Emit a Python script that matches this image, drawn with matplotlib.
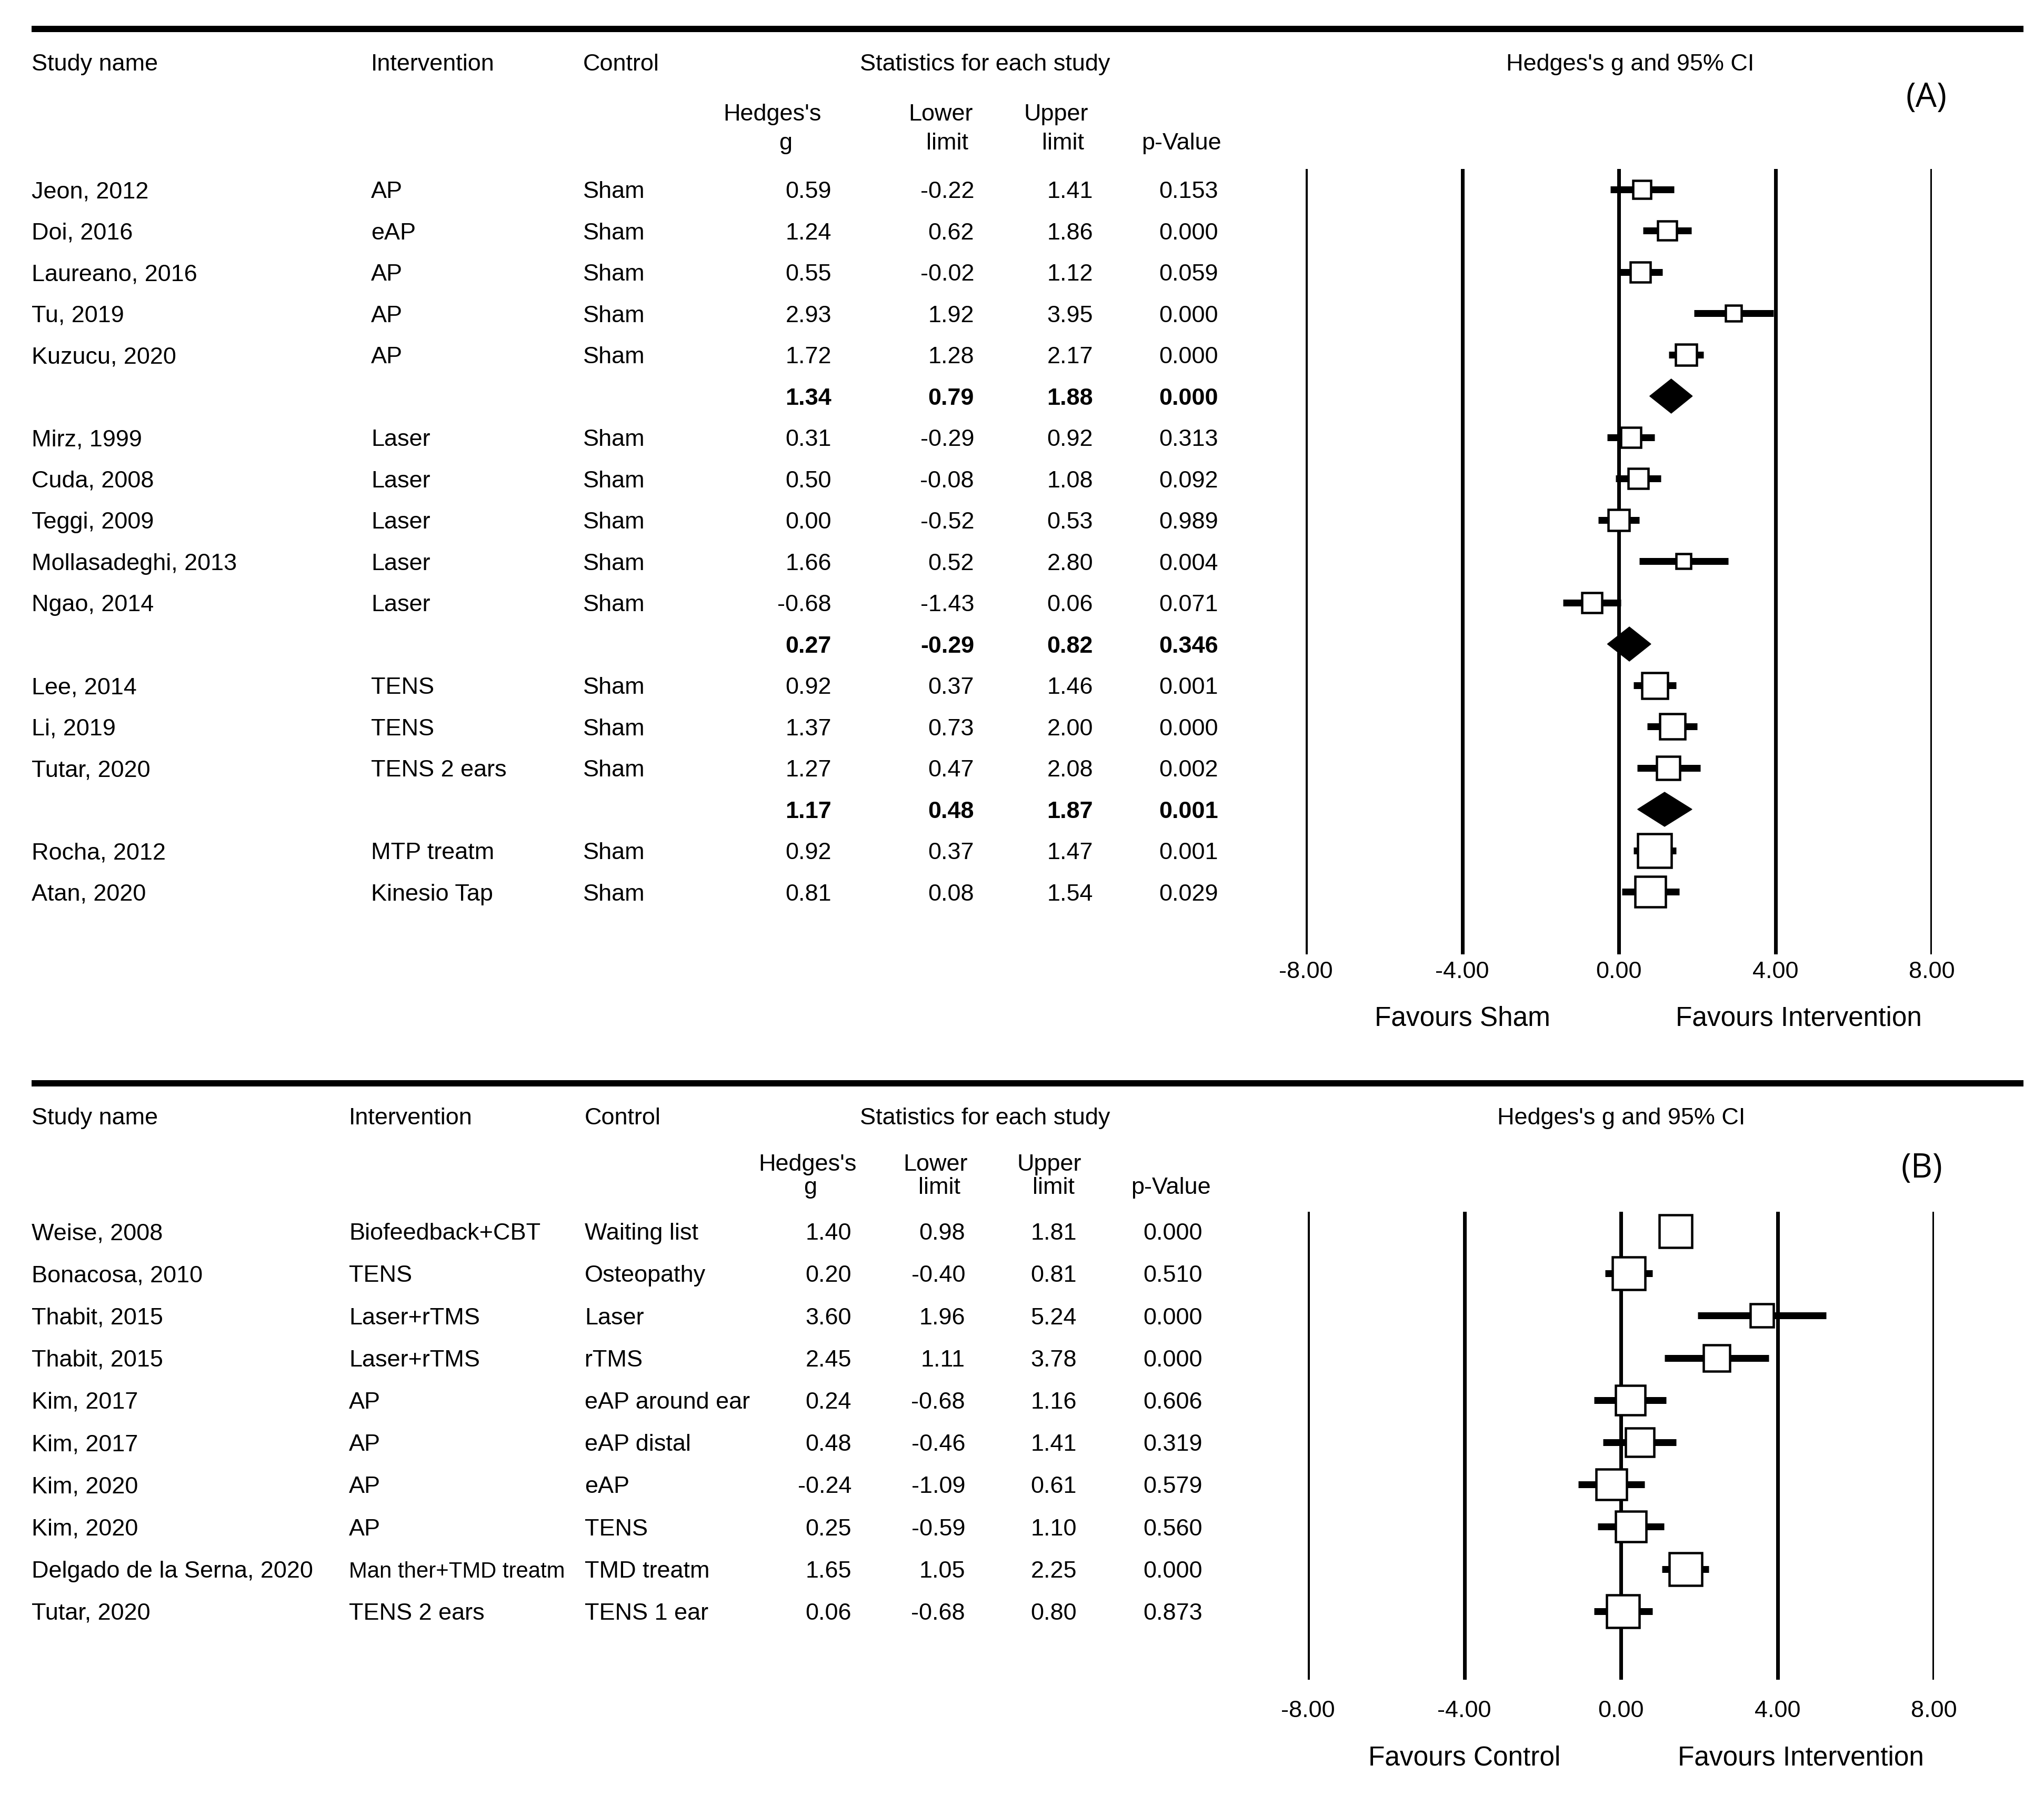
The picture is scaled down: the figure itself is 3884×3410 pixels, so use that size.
import numpy as np
import matplotlib
matplotlib.use("Agg")
import matplotlib.pyplot as plt
from matplotlib.transforms import blended_transform_factory, offset_copy
from matplotlib.lines import Line2D
from matplotlib.patches import Polygon

# ---------------- data: panel A (vs sham) ----------------
studies_a = ["Jeon, 2012", "Doi, 2016", "Laureano, 2016", "Tu, 2019", "Kuzucu, 2020", "",
             "Mirz, 1999", "Cuda, 2008", "Teggi, 2009", "Mollasadeghi, 2013", "Ngao, 2014", "",
             "Lee, 2014", "Li, 2019", "Tutar, 2020", "",
             "Rocha, 2012", "Atan, 2020"]
intervention_a = ["AP", "eAP", "AP", "AP", "AP", "",
                  "Laser", "Laser", "Laser", "Laser", "Laser", "",
                  "TENS", "TENS", "TENS 2 ears", "",
                  "MTP treatm", "Kinesio Tap"]
control_a = ["Sham", "Sham", "Sham", "Sham", "Sham", "",
             "Sham", "Sham", "Sham", "Sham", "Sham", "",
             "Sham", "Sham", "Sham", "",
             "Sham", "Sham"]
g_a = [0.59, 1.24, 0.55, 2.93, 1.72, 1.34,
       0.31, 0.50, 0.00, 1.66, -0.68, 0.27,
       0.92, 1.37, 1.27, 1.17,
       0.92, 0.81]
lower_a = [-0.22, 0.62, -0.02, 1.92, 1.28, 0.79,
           -0.29, -0.08, -0.52, 0.52, -1.43, -0.29,
           0.37, 0.73, 0.47, 0.48,
           0.37, 0.08]
upper_a = [1.41, 1.86, 1.12, 3.95, 2.17, 1.88,
           0.92, 1.08, 0.53, 2.80, 0.06, 0.82,
           1.46, 2.00, 2.08, 1.87,
           1.47, 1.54]
p_a = [0.153, 0.000, 0.059, 0.000, 0.000, 0.000,
       0.313, 0.092, 0.989, 0.004, 0.071, 0.346,
       0.001, 0.000, 0.002, 0.001,
       0.001, 0.029]
summary_a = [False, False, False, False, False, True,
             False, False, False, False, False, True,
             False, False, False, True,
             False, False]
# relative study weights (box area), nan for pooled rows
weight_a = [13.0, 14.4, 16.0, 10.9, 17.6, np.nan,
            16.0, 16.0, 17.6, 9.0, 16.0, np.nan,
            25.0, 24.5, 21.2, np.nan,
            41.0, 33.6]

# ---------------- data: panel B (vs active control) ----------------
studies_b = ["Weise, 2008", "Bonacosa, 2010", "Thabit, 2015", "Thabit, 2015", "Kim, 2017",
             "Kim, 2017", "Kim, 2020", "Kim, 2020", "Delgado de la Serna, 2020", "Tutar, 2020"]
intervention_b = ["Biofeedback+CBT", "TENS", "Laser+rTMS", "Laser+rTMS", "AP",
                  "AP", "AP", "AP", "Man ther+TMD treatm", "TENS 2 ears"]
control_b = ["Waiting list", "Osteopathy", "Laser", "rTMS", "eAP around ear",
             "eAP distal", "eAP", "TENS", "TMD treatm", "TENS 1 ear"]
g_b = [1.40, 0.20, 3.60, 2.45, 0.24, 0.48, -0.24, 0.25, 1.65, 0.06]
lower_b = [0.98, -0.40, 1.96, 1.11, -0.68, -0.46, -1.09, -0.59, 1.05, -0.68]
upper_b = [1.81, 0.81, 5.24, 3.78, 1.16, 1.41, 0.61, 1.10, 2.25, 0.80]
p_b = [0.000, 0.510, 0.000, 0.000, 0.606, 0.319, 0.579, 0.560, 0.000, 0.873]
summary_b = [False] * 10
weight_b = [39.7, 38.4, 21.2, 26.0, 31.4, 30.3, 34.8, 33.6, 38.4, 38.4]

xticks = [-8, -4, 0, 4, 8]
xtick_labels = ["-8.00", "-4.00", "0.00", "4.00", "8.00"]

# ---------------- figure ----------------
W, H, DPI = 3884, 3410, 200
plt.rcParams['font.family'] = ['Liberation Sans', 'DejaVu Sans']
FS = 16.2          # table font size
FS_FAV = 18.5
PT = DPI / 72.0    # pixels per point

fig = plt.figure(figsize=(W / DPI, H / DPI), dpi=DPI)
fig.patch.set_facecolor("white")


def fx(px):
    return px / W


def fy(py):
    return 1 - py / H


def put(xpx, ypx_center, s, size=FS, ha="left", weight="normal", family=None):
    base = ypx_center + 0.358 * size * PT
    kw = {}
    if family is not None:
        kw["family"] = family
    fig.text(fx(xpx), fy(base), s, fontsize=size, ha=ha, va="baseline",
             fontweight=weight, **kw)


LAY_A = dict(rule_y=55, header_y=118, sub1_y=213, sub2_y=268, row0=360, drow=78.5,
             grid_top=321, grid_bot=1813, tick_y=1843, fav_y=1930, x_m8=2481, x_p8=3671,
             lab_xy=(3660, 180), lab="(A)",
             col_study=60, col_int=705, col_ctrl=1108,
             col_g=1580, col_lo=1851, col_hi=2077, col_p=2315,
             sub=[("Hedges's", 1467, 1), ("g", 1493, 2), ("Lower", 1787, 1), ("limit", 1800, 2),
                  ("Upper", 2007, 1), ("limit", 2020, 2), ("p-Value", 2245, 2)],
             stats_c=1872, ci_c=3098, fav_left="Favours Sham")
LAY_B = dict(rule_y=2058, header_y=2120, sub1_y=2208, sub2_y=2252, row0=2339, drow=80.2,
             grid_top=2302, grid_bot=3191, tick_y=3247, fav_y=3335, x_m8=2485, x_p8=3675,
             lab_xy=(3652, 2214), lab="(B)",
             col_study=60, col_int=663, col_ctrl=1111,
             col_g=1618, col_lo=1834, col_hi=2046, col_p=2285,
             sub=[("Hedges's", 1534, 1), ("g", 1540, 2), ("Lower", 1777, 1), ("limit", 1785, 2),
                  ("Upper", 1994, 1), ("limit", 2002, 2), ("p-Value", 2225, 2)],
             stats_c=1872, ci_c=3081, fav_left="Favours Control")


def panel(L, studies, interv, ctrl, g, lo, hi, pv, summ, wts):
    # thick top rule
    fig.add_artist(Line2D([fx(60), fx(3845)], [fy(L["rule_y"])] * 2,
                          transform=fig.transFigure, color="black", lw=12 / PT,
                          solid_capstyle="butt"))
    # headers
    hy = L["header_y"]
    put(L["col_study"], hy, "Study name")
    put(L["col_int"], hy, "Intervention")
    put(L["col_ctrl"], hy, "Control")
    put(L["stats_c"], hy, "Statistics for each study", ha="center")
    put(L["ci_c"], hy, "Hedges's g and 95% CI", ha="center")
    for s, xc, line in L["sub"]:
        put(xc, L["sub1_y"] if line == 1 else L["sub2_y"], s, ha="center")
    put(L["lab_xy"][0], L["lab_xy"][1], L["lab"], size=23, ha="center",
        family=["Open Sans", "DejaVu Sans"])

    # forest axes: x = effect size, y = row index
    ax = fig.add_axes([fx(L["x_m8"]), fy(L["grid_bot"]),
                       fx(L["x_p8"]) - fx(L["x_m8"]), (L["grid_bot"] - L["grid_top"]) / H])
    ax.set_xlim(-8, 8)
    ax.set_ylim((L["grid_bot"] - L["row0"]) / L["drow"], (L["grid_top"] - L["row0"]) / L["drow"])
    for sp in ax.spines.values():
        sp.set_visible(False)
    ax.patch.set_alpha(0)
    ax.set_yticks([])
    ax.set_xticks(xticks)
    ax.set_xticklabels(xtick_labels, fontsize=FS)
    pad_px = L["tick_y"] - 0.37 * FS * PT - L["grid_bot"]
    ax.tick_params(axis="x", length=0, pad=pad_px / PT)
    for t in xticks:
        ax.axvline(t, color="black", lw=7 / PT, zorder=1)

    n = len(studies)
    rows = np.arange(n)
    ci_lw = 13 / PT
    mew_px = 4.5
    dh = 32.5 / L["drow"]
    for i in rows:
        if summ[i]:
            poly = Polygon([[lo[i], i], [g[i], i - dh], [hi[i], i], [g[i], i + dh]],
                           closed=True, facecolor="black", edgecolor="black", lw=0.5, zorder=3)
            ax.add_patch(poly)
        else:
            ax.hlines(i, lo[i], hi[i], color="black", lw=ci_lw, zorder=2)
            side_px = 10.7 * np.sqrt(wts[i])
            ax.plot(g[i], i, marker="s", ms=(side_px - mew_px) / PT, mfc="white",
                    mec="black", mew=mew_px / PT, zorder=4, clip_on=False)

    # favours labels
    tr = blended_transform_factory(ax.transData, fig.transFigure)
    base = L["fav_y"] + 0.358 * FS_FAV * PT
    ax.text(-4, fy(base), L["fav_left"], transform=tr, ha="center", va="baseline",
            fontsize=FS_FAV)
    ax.text(4.6, fy(base), "Favours Intervention", transform=tr, ha="center",
            va="baseline", fontsize=FS_FAV)

    # table text: x in figure fraction, y in forest-axes row units
    trow = blended_transform_factory(fig.transFigure, ax.transData)
    trow = offset_copy(trow, fig=fig, x=0, y=-0.358 * FS * PT, units="dots")
    for i in rows:
        wt = "bold" if summ[i] else "normal"
        if studies[i]:
            fig.text(fx(L["col_study"]), i, studies[i], transform=trow, fontsize=FS,
                     va="baseline", ha="left")
        if interv[i]:
            fs_i = FS if len(interv[i]) < 17 else FS * 0.93
            fig.text(fx(L["col_int"]), i, interv[i], transform=trow, fontsize=fs_i,
                     va="baseline", ha="left")
        if ctrl[i]:
            fig.text(fx(L["col_ctrl"]), i, ctrl[i], transform=trow, fontsize=FS,
                     va="baseline", ha="left")
        for col, val, fmt in ((L["col_g"], g[i], "{:.2f}"), (L["col_lo"], lo[i], "{:.2f}"),
                              (L["col_hi"], hi[i], "{:.2f}"), (L["col_p"], pv[i], "{:.3f}")):
            fig.text(fx(col), i, fmt.format(val), transform=trow, fontsize=FS,
                     va="baseline", ha="right", fontweight=wt)
    return ax


panel(LAY_A, studies_a, intervention_a, control_a, g_a, lower_a, upper_a, p_a, summary_a, weight_a)
panel(LAY_B, studies_b, intervention_b, control_b, g_b, lower_b, upper_b, p_b, summary_b, weight_b)

fig.savefig("out.png", dpi=DPI, facecolor="white")
